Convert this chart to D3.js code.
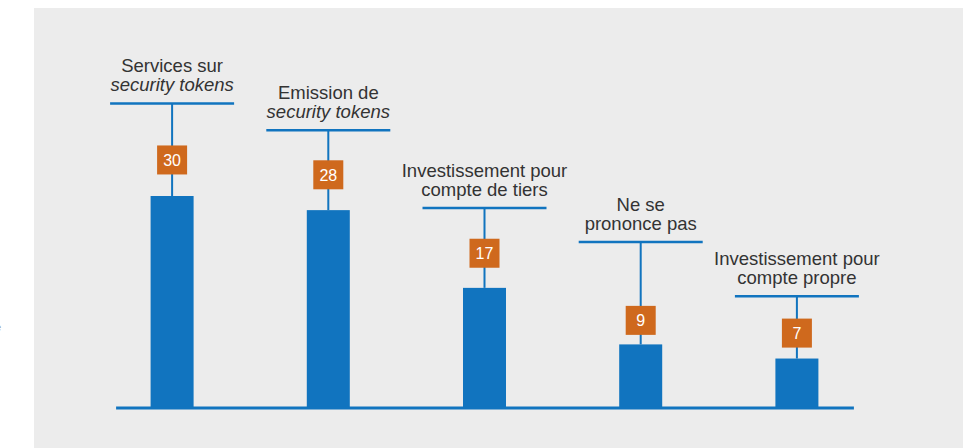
<!DOCTYPE html>
<html>
<head>
<meta charset="utf-8">
<script src="https://cdn.jsdelivr.net/npm/d3@7"></script>
<style>
  html, body { margin: 0; padding: 0; background: #fff; }
  svg { display: block; font-family: "Liberation Sans", Arial, Helvetica, sans-serif; }
</style>
</head>
<body>
<div id="chart"></div>
<script>
'use strict';

/* Data */
const categories = ['services', 'emission', 'tiers', 'nsp', 'propre'];
const values = [30, 28, 17, 9, 7];
// label lines per bar: [text, italic?]
const labelLines = [
    [['Services sur', false], ['security tokens', true]],
    [['Emission de', false], ['security tokens', true]],
    [['Investissement pour', false], ['compte de tiers', false]],
    [['Ne se', false], ['prononce pas', false]],
    [['Investissement pour', false], ['compte propre', false]]
];
// callout levels (in value units): horizontal rule and value box centre
const ruleLevels = [43.1, 39.3, 28.3, 23.5, 15.8];
const boxLevels = [35.1, 33.0, 21.9, 12.4, 10.6];

/* Layout */
const W = 963, H = 448;
const BLUE = '#1174bf', ORANGE = '#cf691d', PANEL = '#ececec', TEXT = '#333333';

const svg = d3.select('#chart').append('svg').attr('width', W).attr('height', H);

svg.append('rect').attr('x', 34).attr('y', 8).attr('width', W - 34).attr('height', H - 8).attr('fill', PANEL);
// clipped glyph at the far left edge of the source page
svg.append('text').attr('x', -5).attr('y', 331).attr('font-size', 11).attr('fill', '#999').text('e');

const x = d3.scalePoint().domain(categories).range([94, 875]).padding(0.5);
const y = d3.scaleLinear().domain([0, 30]).range([408, 196]);
const barW = 43, ruleW = 124, boxW = 30, boxH = 29;

const g = svg.append('g');
const items = categories.map((c, i) => ({ c, v: values[i], lines: labelLines[i], rule: ruleLevels[i], box: boxLevels[i] }));

/* leader lines */
g.selectAll('line.leader').data(items).join('line')
    .attr('class', 'leader')
    .attr('x1', d => x(d.c)).attr('x2', d => x(d.c))
    .attr('y1', d => y(d.rule)).attr('y2', d => y(d.v))
    .attr('stroke', BLUE).attr('stroke-width', 2);

/* horizontal rules */
g.selectAll('line.rule').data(items).join('line')
    .attr('class', 'rule')
    .attr('x1', d => x(d.c) - ruleW / 2).attr('x2', d => x(d.c) + ruleW / 2)
    .attr('y1', d => y(d.rule)).attr('y2', d => y(d.rule))
    .attr('stroke', BLUE).attr('stroke-width', 2.5);

/* bars */
g.selectAll('rect.bar').data(items).join('rect')
    .attr('class', 'bar')
    .attr('x', d => x(d.c) - barW / 2).attr('width', barW)
    .attr('y', d => y(d.v)).attr('height', d => y(0) - y(d.v))
    .attr('fill', BLUE);

/* baseline */
g.append('line')
    .attr('x1', x(categories[0]) - 56).attr('x2', x(categories[categories.length - 1]) + 57)
    .attr('y1', y(0)).attr('y2', y(0))
    .attr('stroke', BLUE).attr('stroke-width', 3);

/* value boxes */
const boxes = g.selectAll('g.box').data(items).join('g')
    .attr('class', 'box')
    .attr('transform', d => `translate(${x(d.c)},${y(d.box)})`);
boxes.append('rect').attr('x', -boxW / 2).attr('y', -boxH / 2).attr('width', boxW).attr('height', boxH).attr('fill', ORANGE);
boxes.append('text').attr('text-anchor', 'middle').attr('y', 6).attr('font-size', 16).attr('fill', '#fff').text(d => d.v);

/* category labels */
const labels = g.selectAll('text.cat').data(items).join('text')
    .attr('class', 'cat')
    .attr('text-anchor', 'middle')
    .attr('font-size', 18.5)
    .attr('fill', TEXT);
labels.selectAll('tspan').data(d => d.lines.map((l, j) => ({ t: l[0], it: l[1], j, n: d.lines.length, xc: x(d.c), yr: y(d.rule) })))
    .join('tspan')
    .attr('x', d => d.xc)
    .attr('y', d => d.yr - 12 - (d.n - 1 - d.j) * 19)
    .attr('font-style', d => d.it ? 'italic' : 'normal')
    .text(d => d.t);
</script>
</body>
</html>
